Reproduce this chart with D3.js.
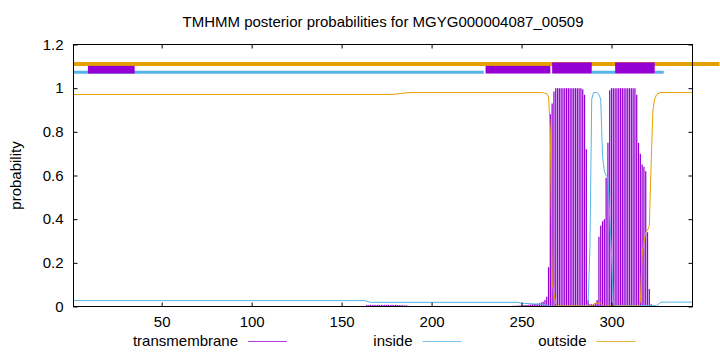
<!DOCTYPE html>
<html>
<head>
<meta charset="utf-8">
<script src="https://cdn.jsdelivr.net/npm/d3@7"></script>
<style>
  html, body { margin: 0; padding: 0; background: #fff; }
  svg { display: block; font-family: "Liberation Sans", Arial, sans-serif; }
</style>
</head>
<body>
<svg id="chart" width="720" height="352"></svg>
<script>
// ---------- data ----------
const titleText = "TMHMM posterior probabilities for MGYG000004087_00509";
const seqRange = [1, 345];
const xTicks = [50, 100, 150, 200, 250, 300];
const yTicks = [0, 0.2, 0.4, 0.6, 0.8, 1, 1.2];
const yTickLabels = ["0", "0.2", "0.4", "0.6", "0.8", "1", "1.2"];

// transmembrane posterior per residue (impulses); residues not listed are ~0
const tmLowStart = 164;
const tmLow = [0.007, 0.006, 0.008, 0.007, 0.008, 0.007, 0.008, 0.007, 0.008, 0.007, 0.008, 0.007,
               0.008, 0.007, 0.008, 0.007, 0.008, 0.007, 0.007, 0.006, 0.006, 0.005, 0.005, 0.004];
const tmStart = 244;
const tmValues = [0.002, 0.003, 0.003, 0.004, 0.005, 0.005, 0.006, 0.006, 0.007, 0.007, 0.008, 0.009,
                  0.010, 0.011, 0.012, 0.013, 0.015, 0.018, 0.022, 0.030, 0.045, 0.18, 0.88, 0.93,
                  0.985, 1, 1, 1, 1, 1, 1, 1, 1, 1, 1, 1, 1, 1, 1, 1, 0.995, 0.97, 0.72, 0.03,
                  0.01, 0.01, 0.01, 0.015, 0.03, 0.32, 0.37, 0.39, 0.40, 0.59, 0.75, 0.99,
                  1, 1, 1, 1, 1, 1, 1, 1, 1, 1, 1, 1, 1, 1, 0.97, 0.75, 0.70, 0.65, 0.64, 0.62,
                  0.34, 0.08, 0.01, 0.004];

// inside / outside posterior curves: [residue, probability]
const insideCurve = [[1, 0.027], [163, 0.027], [166, 0.019], [248, 0.019], [250, 0.015], [257, 0.012],
  [262, 0.010], [264, 0.008], [265, 0.004], [266, 0.002], [268, 0.001], [286, 0.002], [287, 0.02],
  [288, 0.27], [289, 0.95], [290, 0.98], [292, 0.98], [293, 0.97], [294, 0.95], [295, 0.69],
  [296, 0.62], [297, 0.60], [298, 0.59], [299, 0.41], [300, 0.24], [301, 0.01], [302, 0.004],
  [325, 0.004], [326, 0.01], [327, 0.017], [328, 0.02], [345, 0.02]];
const outsideCurve = [[1, 0.971], [178, 0.971], [182, 0.975], [188, 0.98], [261, 0.98], [263, 0.977],
  [264, 0.975], [265, 0.96], [266, 0.80], [267, 0.11], [268, 0.06], [269, 0.013], [270, 0.003],
  [289, 0.002], [290, 0.01], [291, 0.015], [294, 0.015], [295, 0.008], [296, 0.002], [315, 0.002],
  [316, 0.02], [317, 0.24], [318, 0.29], [319, 0.34], [320, 0.35], [321, 0.37], [322, 0.65],
  [323, 0.90], [324, 0.95], [325, 0.97], [327, 0.98], [345, 0.98]];

// predicted topology bars at the top
const outsideBar = [[1, 360]];
const insideBar = [[1, 229], [289, 302], [324, 329]];
const tmShortBoxes = [[9, 35], [230, 266]];
const tmTallBoxes = [[267, 289], [302, 324]];
const barLevels = { outside: 1.111, inside: 1.073, boxLow: 1.067, boxShort: 1.102, boxTall: 1.118 };

const legendNames = ["transmembrane", "inside", "outside"];
const colors = { tm: "#9400d3", inside: "#56b4e9", outside: "#e69f00" };

// ---------- drawing ----------
const svg = d3.select("#chart");
const x = d3.scaleLinear().domain(seqRange).range([73.5, 692.5]);
const y = d3.scaleLinear().domain([0, 1.2]).range([306.5, 44.5]);
const FS = 15;

// title
svg.append("text").attr("x", (x.range()[0] + x.range()[1]) / 2).attr("y", 27)
  .attr("text-anchor", "middle").attr("font-size", FS).text(titleText);

// y label
svg.append("text").attr("transform", `translate(21,${(y(0) + y(1.2)) / 2}) rotate(-90)`)
  .attr("text-anchor", "middle").attr("font-size", FS).text("probability");

// TM impulses
const tmData = tmLow.map((v, i) => [tmLowStart + i, v])
  .concat(tmValues.map((v, i) => [tmStart + i, v]));
svg.append("g").selectAll("line").data(tmData).join("line")
  .attr("x1", d => x(d[0])).attr("x2", d => x(d[0]))
  .attr("y1", y(0)).attr("y2", d => y(d[1]))
  .attr("stroke", colors.tm).attr("stroke-width", 1.25);

// curves
const line = d3.line().x(d => x(d[0])).y(d => y(d[1]));
svg.append("path").datum(insideCurve).attr("d", line)
  .attr("fill", "none").attr("stroke", colors.inside).attr("stroke-width", 1);
svg.append("path").datum(outsideCurve).attr("d", line)
  .attr("fill", "none").attr("stroke", colors.outside).attr("stroke-width", 1);

// topology bars
svg.append("g").selectAll("line").data(outsideBar).join("line")
  .attr("x1", d => x(d[0])).attr("x2", d => x(d[1]))
  .attr("y1", y(barLevels.outside)).attr("y2", y(barLevels.outside))
  .attr("stroke", colors.outside).attr("stroke-width", 4);
svg.append("g").selectAll("line").data(insideBar).join("line")
  .attr("x1", d => x(d[0])).attr("x2", d => x(d[1]))
  .attr("y1", y(barLevels.inside)).attr("y2", y(barLevels.inside))
  .attr("stroke", colors.inside).attr("stroke-width", 3);
svg.append("g").selectAll("rect").data(tmShortBoxes).join("rect")
  .attr("x", d => x(d[0])).attr("width", d => x(d[1]) - x(d[0]))
  .attr("y", y(barLevels.boxShort)).attr("height", y(barLevels.boxLow) - y(barLevels.boxShort))
  .attr("fill", colors.tm);
svg.append("g").selectAll("rect").data(tmTallBoxes).join("rect")
  .attr("x", d => x(d[0])).attr("width", d => x(d[1]) - x(d[0]))
  .attr("y", y(barLevels.boxTall)).attr("height", y(barLevels.boxLow) - y(barLevels.boxTall))
  .attr("fill", colors.tm);

// frame
svg.append("rect").attr("x", x.range()[0]).attr("y", y.range()[1])
  .attr("width", x.range()[1] - x.range()[0]).attr("height", y.range()[0] - y.range()[1])
  .attr("fill", "none").attr("stroke", "#000").attr("stroke-width", 1);

// axes (ticks inward, mirrored)
const tickLen = 4;
const xb = svg.append("g").attr("transform", `translate(0,${y(0)})`)
  .call(d3.axisBottom(x).tickValues(xTicks).tickSizeInner(-tickLen).tickSizeOuter(0).tickPadding(10));
const xt = svg.append("g").attr("transform", `translate(0,${y(1.2)})`)
  .call(d3.axisTop(x).tickValues(xTicks).tickSizeInner(-tickLen).tickSizeOuter(0).tickFormat(""));
const yl = svg.append("g").attr("transform", `translate(${x.range()[0]},0)`)
  .call(d3.axisLeft(y).tickValues(yTicks).tickSizeInner(-tickLen).tickSizeOuter(0).tickPadding(10)
    .tickFormat((d, i) => yTickLabels[i]));
const yr = svg.append("g").attr("transform", `translate(${x.range()[1]},0)`)
  .call(d3.axisRight(y).tickValues(yTicks).tickSizeInner(-tickLen).tickSizeOuter(0).tickFormat(""));
[xb, xt, yl, yr].forEach(g => {
  g.select(".domain").remove();
  g.selectAll("text").attr("font-size", FS).attr("font-family", "Liberation Sans, Arial, sans-serif").attr("fill", "#000");
  g.selectAll("line").attr("stroke", "#000");
});
xb.selectAll("text").attr("dy", null).attr("y", 20.5);
yl.selectAll("text").attr("x", -10);

// legend
const legendEnds = [238, 412.5, 586.5];
const legendColors = [colors.tm, colors.inside, colors.outside];
const lg = svg.append("g");
legendNames.forEach((name, i) => {
  lg.append("text").attr("x", legendEnds[i]).attr("y", 345.5).attr("text-anchor", "end")
    .attr("font-size", FS).text(name);
  lg.append("line").attr("x1", legendEnds[i] + 10).attr("x2", legendEnds[i] + 49)
    .attr("y1", 341.5).attr("y2", 341.5).attr("stroke", legendColors[i])
    .attr("stroke-width", 1).attr("stroke-opacity", 0.75);
});
</script>
</body>
</html>
